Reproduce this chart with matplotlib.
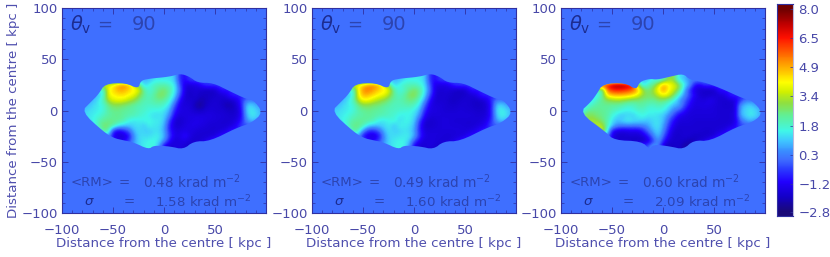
import numpy as np
import matplotlib
matplotlib.use("Agg")
import matplotlib.pyplot as plt
from matplotlib.colors import LinearSegmentedColormap
from matplotlib.patches import Polygon
from matplotlib.ticker import MultipleLocator

# map grid, kpc (5 kpc cells); 0 outside the source
x_cells = np.arange(-85, 100, 5)
y_cells = np.arange(30, -40, -5)

rm_a = [
    [0,0,0,0,0,0,0,0,0,0,0,0,0,0,.8,1.3,1.3,1.3,1.3,1.0,-.8,-1.2,-.5,0,0,0,0,0,0,0,0,0,0,0,0,0,0],
    [0,0,0,0,0,0,3.8,4.3,5.0,5.4,4.9,3.5,2.5,1.0,1.6,1.9,2.1,2.1,1.8,1.4,-.4,-1.6,-1.7,-1.6,-1.2,-.6,0,0,0,0,0,0,0,0,0,0,0],
    [0,0,0,0,0,1.5,4.0,4.4,5.0,4.9,4.5,4.2,3.9,2.2,1.6,2.0,2.5,2.6,2.2,1.4,0,-1.7,-1.9,-1.7,-1.9,-2.0,-2.0,-1.9,-1.0,0,0,0,0,0,0,0,0],
    [0,0,0,0,.8,1.6,3.9,4.2,4.3,4.4,4.1,3.9,3.0,2.3,1.8,2.3,2.8,2.7,2.0,1.2,-.4,-1.8,-2.0,-1.8,-2.0,-2.0,-2.0,-1.9,-1.8,-1.6,-.8,0,0,0,0,0,0],
    [0,0,0,.8,1.3,2.0,3.3,3.8,3.9,3.8,3.4,3.0,2.5,2.0,2.0,2.2,2.4,2.2,1.6,.6,-1.2,-1.8,-1.8,-1.9,-2.2,-2.1,-1.9,-1.8,-1.9,-2.0,-1.9,-1.6,-.8,.2,0,0,0],
    [0,0,.8,1.2,1.4,1.6,2.4,2.8,2.8,2.6,2.4,2.2,2.0,1.9,1.8,1.9,1.9,1.7,1.2,-.3,-1.6,-1.7,-1.7,-2.2,-2.5,-2.0,-1.8,-1.8,-1.9,-2.2,-2.2,-1.8,-1.0,1.0,1.2,.6,0],
    [0,.8,1.2,1.3,1.4,1.6,2.2,2.4,2.4,2.3,2.2,2.1,1.9,1.8,1.6,1.5,1.5,1.3,.7,-.9,-1.6,-1.6,-1.7,-1.9,-2.0,-1.8,-1.7,-1.8,-1.8,-1.9,-2.0,-1.9,-1.2,1.1,1.4,1.1,.6],
    [.6,1.1,1.3,1.4,1.6,1.9,2.2,2.3,2.4,2.2,2.1,2.0,1.8,1.6,1.4,1.2,1.3,1.1,.3,-1.4,-1.7,-1.6,-1.6,-1.6,-1.6,-1.6,-1.6,-1.7,-1.7,-1.8,-1.9,-1.8,-1.3,.8,1.4,1.2,.7],
    [0,.4,1.2,1.5,1.9,2.3,2.4,2.4,2.3,2.1,1.5,1.3,1.4,1.5,1.6,1.4,1.4,1.0,-.6,-1.8,-1.9,-1.7,-1.6,-1.5,-1.5,-1.6,-1.7,-1.7,-1.8,-1.8,-1.8,-1.6,-1.0,.4,1.0,.6,0],
    [0,0,0,1.0,2.2,2.6,2.6,2.2,1.4,1.0,1.0,1.2,1.3,1.0,1.5,1.3,1.3,.7,-1.0,-1.8,-1.8,-1.6,-1.5,-1.5,-1.6,-1.7,-1.8,-1.8,-1.8,-1.8,-1.7,-1.3,-.4,0,0,0,0],
    [0,0,0,0,.8,2.5,2.2,-.9,-1.5,-.9,-.2,.9,1.2,1.1,1.0,1.3,1.2,.6,-.9,-1.6,-1.6,-1.5,-1.6,-1.7,-1.8,-1.8,-1.8,-1.8,-1.7,-1.5,-.8,0,0,0,0,0,0],
    [0,0,0,0,0,.6,.5,-1.4,-1.7,-1.8,-1.2,.5,1.2,1.2,1.2,1.4,1.4,.8,-.6,-1.5,-1.5,-1.0,-1.6,-1.8,-1.8,-1.8,-1.8,-1.6,-1.0,0,0,0,0,0,0,0,0],
    [0,0,0,0,0,0,.2,-.8,-1.4,-1.4,-.5,.5,1.2,1.4,1.5,1.6,1.2,.3,-1.2,-1.8,-1.6,-1.6,-1.8,-1.9,-1.8,-1.6,-1.0,-.4,0,0,0,0,0,0,0,0,0],
    [0,0,0,0,0,0,0,0,0,-.2,.2,.8,1.1,1.4,1.6,1.6,.6,-1.6,-1.9,-1.6,-1.6,-1.8,-1.9,-1.6,-1.0,-.3,0,0,0,0,0,0,0,0,0,0,0],
]

rm_b = [
    [0,0,0,0,0,0,0,0,0,0,0,0,0,0,.8,1.3,1.4,1.4,1.4,1.1,-.7,-1.2,-.5,0,0,0,0,0,0,0,0,0,0,0,0,0,0],
    [0,0,0,0,0,0,4.0,4.6,5.2,5.4,5.0,3.6,2.5,1.0,1.6,1.9,2.0,2.0,1.7,1.3,-.3,-1.5,-1.6,-1.6,-1.2,-.6,0,0,0,0,0,0,0,0,0,0,0],
    [0,0,0,0,0,1.5,4.1,5.3,5.5,5.0,4.5,4.3,3.9,2.2,1.5,1.8,2.4,2.7,2.3,1.4,0,-1.6,-1.8,-1.7,-1.8,-2.0,-2.0,-1.9,-1.0,0,0,0,0,0,0,0,0],
    [0,0,0,0,.8,1.6,4.0,4.9,4.7,4.4,4.1,3.9,3.2,2.3,1.8,2.2,2.8,2.9,2.2,1.2,-.4,-1.7,-1.9,-1.8,-1.9,-2.0,-2.0,-1.9,-1.8,-1.6,-.8,0,0,0,0,0,0],
    [0,0,0,.8,1.3,2.0,3.4,4.1,4.0,3.6,3.2,2.9,2.5,2.1,2.0,2.2,2.5,2.4,1.7,.6,-1.1,-1.8,-1.8,-1.8,-2.0,-2.0,-1.9,-1.8,-1.9,-2.0,-1.9,-1.6,-.8,.2,0,0,0],
    [0,0,.8,1.2,1.4,1.6,2.4,2.8,2.8,2.6,2.5,2.3,2.1,1.9,1.9,2.0,2.1,1.8,1.3,-.2,-1.5,-1.7,-1.7,-1.8,-1.9,-1.9,-1.8,-1.8,-1.9,-2.0,-2.0,-1.8,-1.0,1.0,1.2,.6,0],
    [.5,.9,1.2,1.3,1.4,1.6,2.1,2.3,2.4,2.3,2.2,2.1,1.9,1.9,1.8,1.7,1.6,1.4,.8,-.8,-1.6,-1.6,-1.7,-1.8,-1.8,-1.8,-1.7,-1.8,-1.8,-1.9,-1.9,-1.8,-.9,1.2,1.5,1.2,.7],
    [.7,1.1,1.3,1.4,1.6,1.9,2.1,2.2,2.3,2.2,2.1,2.0,1.9,1.7,1.4,1.4,1.5,1.2,.4,-1.3,-1.7,-1.7,-1.7,-1.7,-1.7,-1.7,-1.7,-1.7,-1.7,-1.8,-1.8,-1.7,-1.0,1.0,1.5,1.3,.7],
    [0,.4,1.2,1.5,1.8,2.2,2.3,2.3,2.2,2.0,1.4,1.3,1.5,1.7,1.2,1.5,1.5,1.0,-.5,-1.7,-1.9,-1.8,-1.7,-1.7,-1.7,-1.8,-1.8,-1.8,-1.8,-1.8,-1.7,-1.5,-.7,.6,1.1,.6,0],
    [0,0,0,1.0,2.0,2.4,2.5,2.0,1.2,.9,1.0,1.2,1.4,.9,1.5,1.4,1.3,.8,-.9,-1.9,-1.9,-1.8,-1.7,-1.7,-1.7,-1.7,-1.7,-1.8,-1.8,-1.7,-1.6,-1.2,-.3,0,0,0,0],
    [0,0,0,0,.8,2.4,2.0,.3,-.8,-.8,-.2,.8,1.3,1.1,1.1,1.3,1.2,.6,-.9,-1.7,-1.7,-1.7,-1.7,-1.7,-1.7,-1.7,-1.7,-1.7,-1.6,-1.4,-.8,0,0,0,0,0,0],
    [0,0,0,0,0,.6,.6,-1.2,-1.6,-1.7,-1.2,.4,1.2,1.2,1.3,1.4,1.4,.7,-.7,-1.6,-1.7,-1.7,-1.7,-1.8,-1.8,-1.7,-1.7,-1.5,-1.0,0,0,0,0,0,0,0,0],
    [0,0,0,0,0,0,.2,-.3,-1.0,-1.2,-.4,.4,1.2,1.4,1.5,1.5,1.0,-.4,-1.4,-1.8,-1.6,-1.7,-1.8,-1.8,-1.7,-1.5,-1.0,-.4,0,0,0,0,0,0,0,0,0],
    [0,0,0,0,0,0,0,0,0,-.2,.2,.8,1.1,1.4,1.6,1.5,.5,-1.5,-1.9,-1.7,-1.7,-1.8,-1.9,-1.6,-1.0,-.3,0,0,0,0,0,0,0,0,0,0,0],
]

rm_c = [
    [0,0,0,0,0,0,0,0,0,0,0,0,0,0,1.0,1.6,1.4,2.0,3.0,3.0,1.2,1.0,.3,0,0,0,0,0,0,0,0,0,0,0,0,0,0],
    [0,0,0,0,0,0,6.6,7.6,7.9,7.8,7.4,6.6,3.0,1.0,2.0,2.4,3.6,5.0,4.2,3.8,3.2,1.4,.8,-1.0,-1.4,-.7,0,0,0,0,0,0,0,0,0,0,0],
    [0,0,0,0,0,2.0,5.6,6.2,6.4,6.2,6.0,5.6,4.8,3.2,2.4,3.2,4.2,5.2,4.0,3.6,2.6,1.0,-.6,-1.6,-1.8,-2.0,-2.0,-1.9,-1.0,0,0,0,0,0,0,0,0],
    [0,0,0,0,1.2,2.2,4.4,4.8,4.9,4.9,4.7,4.4,3.8,3.0,2.7,2.8,3.6,4.0,3.8,2.8,1.6,.5,-.3,-1.2,-1.8,-1.9,-1.9,-1.8,-1.8,-1.6,-.8,0,0,0,0,0,0],
    [0,0,0,1.2,2.0,2.4,2.8,3.0,3.2,3.0,2.8,2.6,2.6,2.4,2.4,2.3,2.6,2.6,2.2,1.6,.6,0,-.8,-1.6,-1.6,-1.7,-1.4,-1.6,-1.8,-1.9,-1.8,-1.6,-.8,.2,0,0,0],
    [0,0,1.4,2.0,2.2,2.3,2.3,2.2,2.2,2.0,1.8,1.8,2.1,2.2,1.8,1.8,2.0,1.8,1.4,.8,.8,-.3,-1.2,-1.6,-1.6,-1.5,-1.6,-1.7,-1.8,-1.9,-1.9,-1.7,.6,1.0,1.1,.6,0],
    [0,1.0,2.2,2.4,2.4,2.3,2.2,2.0,1.8,1.6,1.4,1.6,1.8,1.8,1.6,1.5,1.6,1.5,1.0,.2,-.2,-1.0,-1.6,-1.7,-1.7,-1.7,-1.7,-1.7,-1.8,-1.8,-1.8,-1.7,.8,1.1,1.4,1.2,.6],
    [1.2,2.4,3.0,2.8,2.5,2.4,2.2,1.6,1.2,.9,1.2,1.0,1.4,1.6,1.3,1.4,1.2,1.0,.3,-.4,-1.4,-1.6,-1.7,-1.7,-1.7,-1.7,-1.7,-1.7,-1.8,-1.8,-1.8,-1.6,.8,1.1,1.4,1.2,.7],
    [0,.8,2.8,3.4,3.0,2.5,2.1,1.2,.9,1.2,1.5,1.3,1.2,1.1,1.0,1.2,1.3,.9,-.2,-1.2,-1.7,-1.7,-1.7,-1.8,-1.8,-1.8,-1.8,-1.8,-1.8,-1.8,-1.8,-1.6,-.2,.6,.9,.5,0],
    [0,0,0,2.6,3.8,3.4,2.0,1.0,.3,.2,.2,.2,.2,.3,.6,1.2,1.3,.6,-.6,-1.5,-1.8,-1.8,-1.8,-1.8,-1.8,-1.8,-1.8,-1.8,-1.8,-1.8,-1.7,-1.3,-.4,0,0,0,0],
    [0,0,0,0,1.4,4.2,1.5,-1.2,-1.6,-1.7,-1.6,-1.5,-1.6,-.9,.1,.8,1.2,.3,-1.0,-1.8,-1.9,-1.8,-1.8,-1.8,-1.8,-1.9,-1.9,-1.8,-1.7,-1.5,-.8,0,0,0,0,0,0],
    [0,0,0,0,0,.8,.3,-1.6,-1.9,-1.9,-1.8,-1.8,-1.8,-1.7,-1.0,.3,1.0,-.2,-1.4,-1.9,-1.9,-1.8,-1.8,-2.0,-2.0,-1.9,-1.9,-1.7,-1.0,0,0,0,0,0,0,0,0],
    [0,0,0,0,0,0,0,-1.2,-2.0,-2.0,-2.0,-2.2,-2.1,-2.0,-1.6,-.6,.6,-.9,-1.8,-1.9,-1.9,-2.0,-2.2,-2.1,-1.8,-1.6,-1.0,-.4,0,0,0,0,0,0,0,0,0],
    [0,0,0,0,0,0,0,0,0,-.2,-.6,-.6,-.5,-.4,-.2,1.0,.2,-1.9,-2.1,-2.0,-1.9,-2.3,-2.4,-1.8,-1.0,-.3,0,0,0,0,0,0,0,0,0,0,0],
]

# source outlines, kpc
edge_x_ab = [-81,-72,-64,-58,-38,-25,-23,-15,6,16,25,33,48,64,81,88,97,86,71,45,29,19,6,-10,-15,-30,-40,-49,-59]
edge_y_ab = [-1,8,16,26,27,21,29,31,33,36,33,27,27,19,11,10,-2,-12,-17,-30,-30,-38,-35,-34,-38,-31,-29,-27,-21]
edge_x_c = [-82,-71,-65,-59,-37,-26,-23,-13,-6,7,20,26,39,56,80,87,98,89,72,46,30,20,7,-10,-13,-21,-48,-56]
edge_y_c = [-2,8,16,26,27,20,28,31,30,33,36,30,28,22,11,10,-2,-11,-16,-30,-29,-38,-35,-33,-38,-30,-29,-21]

theta_txt = "90"
rm_means = ["0.48", "0.49", "0.60"]
rm_sigmas = ["1.58", "1.60", "2.09"]
axis_ticks = [-100, -50, 0, 50, 100]
cbar_ticks = [8.0, 6.45, 4.9, 3.35, 1.8, 0.25, -1.3, -2.8]
cbar_labels = ["8.0", "6.5", "4.9", "3.4", "1.8", "0.3", "\u22121.2", "\u22122.8"]
xlabel_txt = "Distance from the centre [ kpc ]"

vmin, vmax = -2.8, 8.0
stops = [(-2.8, "#1a0a78"), (-2.0, "#1400c8"), (-1.2, "#2200ff"), (-0.5, "#2c40ff"),
         (0.0, "#3f6fff"), (0.4, "#3a8cff"), (1.0, "#40c8ff"), (1.5, "#40f8e8"),
         (2.3, "#60f098"), (3.0, "#90e040"), (3.6, "#d0f000"), (4.1, "#ffff00"),
         (4.9, "#ffb000"), (5.7, "#ff6000"), (6.5, "#ff1000"), (7.2, "#c00000"), (8.0, "#700000")]
cmap = LinearSegmentedColormap.from_list(
    "rm", [((v - vmin) / (vmax - vmin), c) for v, c in stops], N=256)

W, H = 830, 257
INK = "#4848a8"
AX_COL = "#3030a0"
TXT = "#2c44b0"

fig = plt.figure(figsize=(W / 100, H / 100), dpi=100)


def add_axes(x0, x1, ytop, ybot):
    return fig.add_axes([x0 / W, 1 - ybot / H, (x1 - x0) / W, (ybot - ytop) / H])


def fill_outside(rm):
    # carry the edge values past the outline so the clip gets a clean edge
    g = np.array(rm, dtype=float)
    for row in g:
        nz = np.nonzero(row)[0]
        row[:nz[0]] = row[nz[0]]
        row[nz[-1] + 1:] = row[nz[-1]]
    return np.pad(g, 1, mode="edge")


def round_corners(xs, ys, passes=2):
    # corner cutting, the source edge is soft in the original
    p = np.column_stack([xs, ys]).astype(float)
    for _ in range(passes):
        q = np.roll(p, -1, axis=0)
        p = np.vstack([0.75 * p + 0.25 * q, 0.25 * p + 0.75 * q])[
            np.argsort(np.r_[np.arange(len(p)) * 2, np.arange(len(p)) * 2 + 1])]
    return p


lefts = [62, 312, 561]
edges = [(edge_x_ab, edge_y_ab), (edge_x_ab, edge_y_ab), (edge_x_c, edge_y_c)]
for i, (rm, x0) in enumerate(zip([rm_a, rm_b, rm_c], lefts)):
    ax = add_axes(x0, x0 + 204, 8, 213)
    ax.set_facecolor(cmap((0 - vmin) / (vmax - vmin)))
    ext = [x_cells[0] - 7.5, x_cells[-1] + 7.5, y_cells[-1] - 7.5, y_cells[0] + 7.5]
    im = ax.imshow(fill_outside(rm), extent=ext, cmap=cmap, vmin=vmin, vmax=vmax,
                   interpolation="bicubic", aspect="auto")
    ax.set_xlim(-100, 100)
    ax.set_ylim(-100, 100)
    outline = Polygon(round_corners(*edges[i]), closed=True, transform=ax.transData)
    im.set_clip_path(outline)
    ax.set_xticks(axis_ticks[:-1])
    ax.set_yticks(axis_ticks)
    ax.set_xticklabels([str(t).replace("-", "\u2212") for t in axis_ticks[:-1]])
    ax.set_yticklabels([str(t).replace("-", "\u2212") for t in axis_ticks])
    ax.xaxis.set_minor_locator(MultipleLocator(10))
    ax.yaxis.set_minor_locator(MultipleLocator(10))
    ax.tick_params(which="major", direction="in", top=True, right=True, length=4,
                   width=0.6, color=AX_COL, labelcolor=INK, labelsize=9.5)
    ax.tick_params(axis="x", which="major", pad=8)
    ax.tick_params(axis="y", which="major", pad=3)
    ax.tick_params(which="minor", direction="in", top=True, right=True, length=2,
                   width=0.5, color=AX_COL)
    for s in ax.spines.values():
        s.set_color(AX_COL)
        s.set_linewidth(0.8)
    ax.set_xlabel(xlabel_txt, color=AX_COL, fontsize=9.6, labelpad=0, alpha=0.85)
    if i == 0:
        ax.set_ylabel(xlabel_txt, color=AX_COL, fontsize=9.6, labelpad=1, alpha=0.85)

    ax.text(-92, 84, r"$\theta_{\rm v}$", color="#1c2c90", fontsize=14, va="center")
    ax.text(-66, 84, "=", color=TXT, fontsize=13, va="center")
    ax.text(-32, 84, theta_txt, color=TXT, fontsize=14, va="center")
    ax.text(-92, -74, "<RM>", color=TXT, fontsize=9.6, va="baseline")
    ax.text(-44, -74, "=", color=TXT, fontsize=9.6, va="baseline")
    ax.text(-21, -76, rm_means[i] + " krad m$^{-2}$", color=TXT, fontsize=9.8, va="baseline")
    ax.text(-78, -92, r"$\sigma$", color="#1c2c90", fontsize=9.6, va="baseline")
    ax.text(-40, -92, "=", color=TXT, fontsize=9.6, va="baseline")
    ax.text(-9, -94, rm_sigmas[i] + " krad m$^{-2}$", color=TXT, fontsize=9.6, va="baseline")

# colour bar
cax = add_axes(777, 793, 4, 216)
cbar_lo, cbar_hi = -3.0, 8.25
grad = np.linspace(cbar_lo, cbar_hi, 256).reshape(-1, 1)
cax.imshow(grad, origin="lower", extent=[0, 1, cbar_lo, cbar_hi], cmap=cmap, vmin=vmin, vmax=vmax,
           aspect="auto", interpolation="bilinear")
cax.set_ylim(cbar_lo, cbar_hi)
cax.set_xticks([])
cax.yaxis.tick_right()
cax.set_yticks(cbar_ticks)
cax.set_yticklabels(cbar_labels)
cax.tick_params(direction="in", length=2, width=0.5, color=AX_COL, labelcolor=INK,
                labelsize=9.5, pad=4)
for s in cax.spines.values():
    s.set_color(AX_COL)
    s.set_linewidth(0.8)
cax.spines["right"].set_color("#b8b8e0")

fig.savefig("out.png", dpi=100)
